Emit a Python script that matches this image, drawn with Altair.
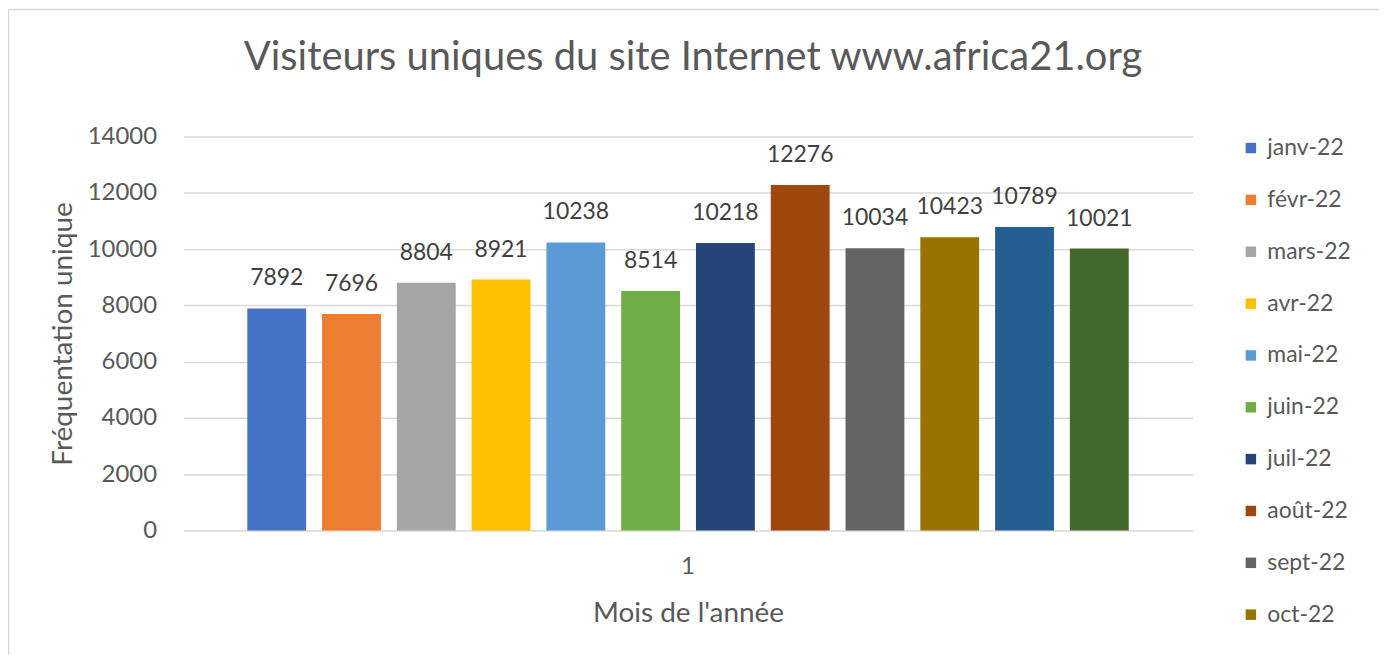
import altair as alt
import pandas as pd

mois = ["janv-22", "févr-22", "mars-22", "avr-22", "mai-22", "juin-22",
        "juil-22", "août-22", "sept-22", "oct-22", "nov-22", "déc-22"]
visiteurs = [7892, 7696, 8804, 8921, 10238, 8514, 10218, 12276, 10034, 10423, 10789, 10021]
couleurs = ["#4472C4", "#ED7D31", "#A5A5A5", "#FFC000", "#5B9BD5", "#70AD47",
            "#264478", "#9E480E", "#636363", "#997300", "#255E91", "#43682B"]
groupe = ["1"] * len(mois)
legende_visible = mois[:10]
y_ticks = [0, 2000, 4000, 6000, 8000, 10000, 12000, 14000]
titre = "Visiteurs uniques du site Internet www.africa21.org"

df = pd.DataFrame({"groupe": groupe, "mois": mois, "visiteurs": visiteurs})

FONT = "Lato"
GREY = "#595959"

x_enc = alt.X("groupe:N", scale=alt.Scale(paddingInner=0, paddingOuter=0.0724),
              axis=alt.Axis(title="Mois de l'année", labelAngle=0, ticks=False, domain=False,
                            grid=False,
                            labelFontSize=24, labelColor=GREY, labelPadding=24,
                            titleFontSize=28, titleColor=GREY, titleFontWeight="normal",
                            titlePadding=21, labelFont=FONT, titleFont=FONT))
xo_enc = alt.XOffset("mois:N", sort=mois,
                     scale=alt.Scale(paddingInner=0.213, paddingOuter=0))
y_enc = alt.Y("visiteurs:Q", scale=alt.Scale(domain=[0, 14000], nice=False),
              axis=alt.Axis(title="Fréquentation unique", values=y_ticks, ticks=False,
                            format="d",
                            domain=False, grid=True, gridColor="#D9D9D9", gridWidth=1.5,
                            labelFontSize=24, labelColor=GREY, labelPadding=27,
                            titleFontSize=28, titleColor=GREY, titleFontWeight="normal",
                            titlePadding=10, labelFont=FONT, titleFont=FONT))

bars = alt.Chart(df).mark_bar().encode(
    x=x_enc,
    xOffset=xo_enc,
    y=y_enc,
    color=alt.Color("mois:N", sort=mois,
                    scale=alt.Scale(domain=mois, range=couleurs),
                    legend=alt.Legend(title=None, values=legende_visible, orient="none",
                                      legendX=1059, legendY=0, symbolType="square",
                                      symbolSize=110, symbolStrokeWidth=0,
                                      labelFontSize=23, labelColor=GREY, labelFont=FONT,
                                      rowPadding=28, labelOffset=5)),
)

labels = alt.Chart(df).mark_text(dy=-30, fontSize=23, color="#404040", font=FONT,
                                 baseline="middle").encode(
    x=alt.X("groupe:N"),
    xOffset=alt.XOffset("mois:N", sort=mois),
    y=alt.Y("visiteurs:Q"),
    text=alt.Text("visiteurs:Q", format="d"),
)

title_mark = alt.Chart(pd.DataFrame({"t": [titre]})).mark_text(
    fontSize=40, color=GREY, font=FONT, baseline="middle", align="center", clip=False
).encode(text="t:N", x=alt.value(511), y=alt.value(-79))

border = alt.Chart(pd.DataFrame({"a": [0]})).mark_rect(
    filled=False, stroke="#D9D9D9", strokeWidth=1.5, clip=False
).encode(x=alt.value(-175.5), x2=alt.value(1201), y=alt.value(-127.5), y2=alt.value(530))

chart = alt.layer(border, bars, labels, title_mark).properties(
    width=1012, height=395,
    background="white",
    autosize=alt.AutoSizeParams(type="none"),
    padding={"left": 176, "top": 128, "right": 187, "bottom": 124},
).configure_view(stroke="transparent", strokeWidth=0)

chart.save("out.html", embed_options={"renderer": "svg", "actions": False})
